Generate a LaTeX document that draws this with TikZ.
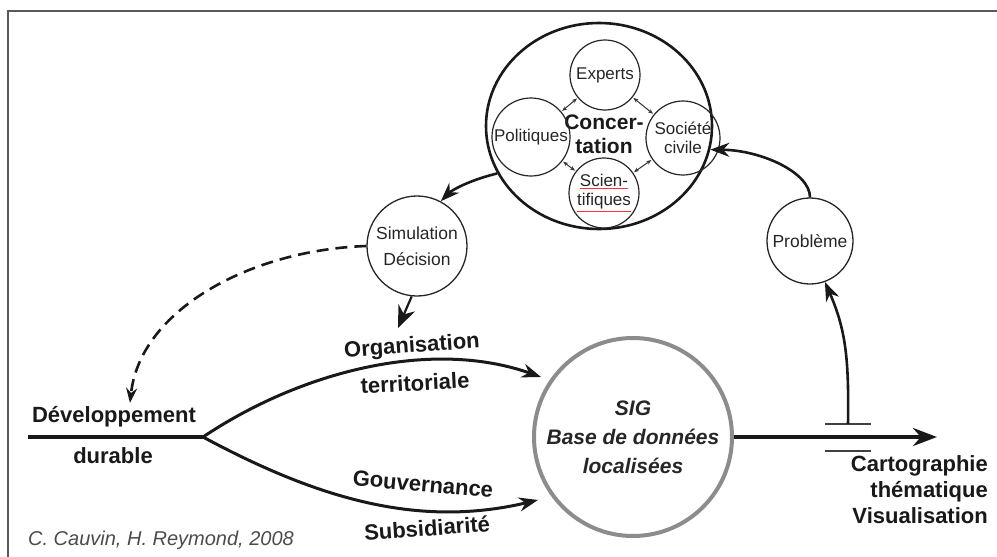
\documentclass[tikz,border=0pt]{standalone}
\usepackage{fontspec}
\setmainfont{Liberation Sans}
\usetikzlibrary{arrows.meta,shapes.geometric}
\newcommand{\redul}[1]{\textcolor{red!80}{\underline{\textcolor{black!85}{#1}}}}
\begin{document}
\begin{tikzpicture}[x=1pt,y=-1pt,
  smallc/.style={circle,draw=black!85,line width=1.2pt,inner sep=0pt,minimum size=#1,align=center,
    text=black!85,font=\fontsize{17}{19}\selectfont},
  midc/.style={circle,draw=black!85,line width=1.3pt,inner sep=0pt,minimum size=#1,align=center,
    text=black!85,font=\fontsize{17.5}{26}\selectfont},
  lbl/.style={font=\fontsize{22}{26}\selectfont\bfseries,text=black!90,inner sep=0pt,align=center},
  arr/.style={line width=3pt,black!90,-{Stealth[length=19pt,width=14pt]}},
  axis/.style={line width=3.8pt,black!90},
  axarr/.style={line width=3.8pt,black!90,-{Stealth[length=24pt,width=18pt]}},
  dbl/.style={line width=1pt,black!80,{Stealth[length=5pt,width=4pt]}-{Stealth[length=5pt,width=4pt]},shorten <=1pt,shorten >=1pt},
  bar/.style={line width=2.6pt,black!75}
]
\useasboundingbox (0,0) rectangle (997,557);
\fill[white] (0,0) rectangle (997,557);
\draw[line width=2.6pt,black!65] (8,557) -- (8,11) -- (997,11);

% Concertation
\node[ellipse,draw=black!90,line width=2.6pt,minimum width=226pt,minimum height=206pt] (conc) at (599,126) {};
\node[lbl,font=\fontsize{21}{24}\selectfont\bfseries] (ctext) at (604,134) {Concer-\\tation};
\node[smallc=70pt] (exp) at (605,75) {Experts};
\node[smallc=78pt] (pol) at (531,137) {Politiques};
\node[smallc=74pt] (soc) at (683,138) {Société\\civile};
\node[smallc=70pt] (sci) at (604,193) {\redul{Scien-}\\\redul{tifiques}};
\draw[dbl] (exp) -- (pol);
\draw[dbl] (exp) -- (soc);
\draw[dbl] (pol) -- (sci);
\draw[dbl] (soc) -- (sci);

% Simulation / Probleme
\node[midc=100pt] (sim) at (417,246) {Simulation\\Décision};
\node[midc=86pt] (prob) at (810,241) {Problème};

% SIG
\node[circle,draw=black!45,line width=4pt,minimum size=198pt,inner sep=0pt,align=center,
  font=\fontsize{21}{29}\selectfont\bfseries\itshape,text=black!85] (sig) at (633,437)
  {SIG\\Base de données\\localisées};

% axis
\coordinate (start) at (28,437);
\coordinate (fork) at (203,437);
\coordinate (utip) at (541,377);
\coordinate (ltip) at (538,500);
\coordinate (rtip) at (937,437);
\draw[axis] (start) -- (fork);
\draw[arr] (fork) .. controls (300,372) and (430,338) .. (utip);
\draw[arr] (fork) .. controls (320,500) and (420,528) .. (ltip);
\draw[axarr] (sig.east) -- (rtip);

% labels
\node[lbl] (dev) at (114,417) {Développement};
\node[lbl] (dur) at (113,456) {durable};
\node[lbl,rotate=4] (org) at (412,347) {Organisation};
\node[lbl,rotate=3] (ter) at (415,383) {territoriale};
\node[lbl,rotate=-5] (gov) at (423,484) {Gouvernance};
\node[lbl,rotate=4] (sub) at (427,528) {Subsidiarité};
\node[lbl,align=right,anchor=north east] (carto) at (988,455) {Cartographie\\thématique\\Visualisation};
\node[font=\fontsize{20}{22}\selectfont\itshape,text=black!70,anchor=west,inner sep=0pt] (cred) at (28,540) {C. Cauvin, H. Reymond, 2008};

% bars and up arrow
\coordinate (b1l) at (825,424);
\coordinate (b1r) at (871,424);
\coordinate (b2l) at (825,451);
\coordinate (b2r) at (871,451);
\coordinate (bm) at (848,424);
\draw[bar] (b1l) -- (b1r);
\draw[bar] (b2l) -- (b2r);
\draw[arr,line width=2.6pt] (bm) .. controls (849,360) and (846,330) .. (prob.-70);

% cycle arrows
\draw[arr,line width=2.6pt] (prob.north) .. controls (810,172) and (760,150) .. (conc.-12);
\draw[arr,line width=2.6pt] (conc.205) .. controls (470,180) and (452,190) .. (sim.62);
\coordinate (otip) at (398,328);
\draw[line width=2.2pt,black!90,-{Stealth[length=22pt,width=18pt]}] (sim.264) -- (otip);

% dashed
\coordinate (dtip) at (130,403);
\draw[line width=2.6pt,black!90,dash pattern=on 12pt off 7pt,-{Stealth[length=15pt,width=11pt]}] (sim.west) .. controls (250,250) and (140,310) .. (dtip);
\end{tikzpicture}
\end{document}
